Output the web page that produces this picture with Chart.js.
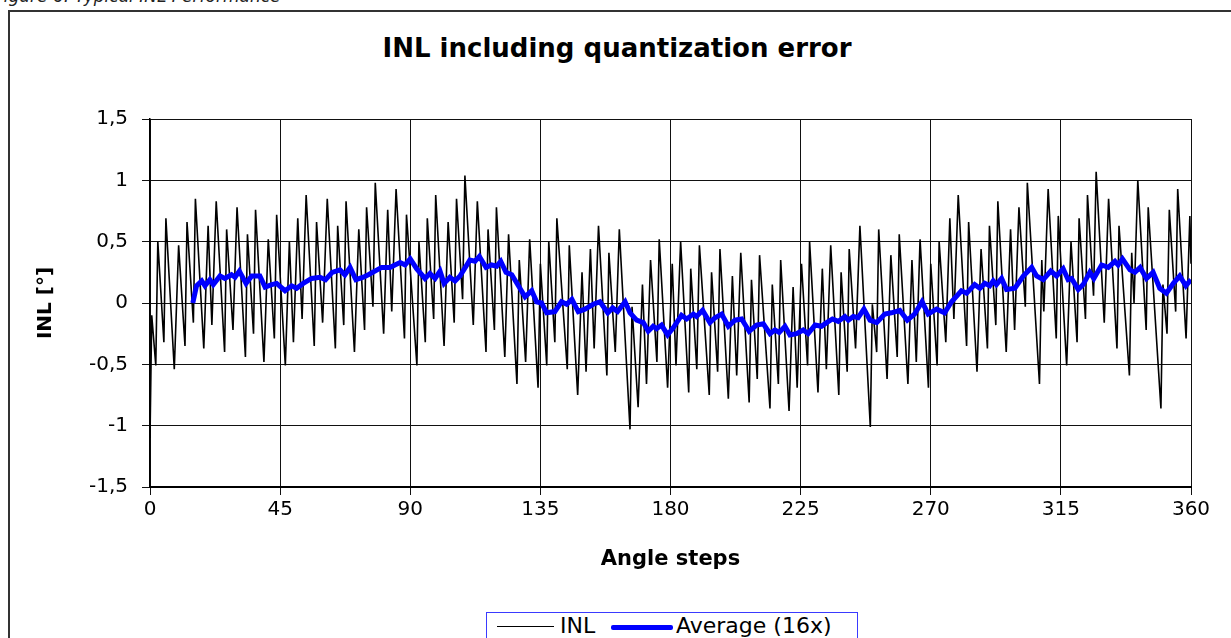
<!DOCTYPE html>
<html lang="en">
<head>
  <meta charset="UTF-8" />
  <title>INL including quantization error</title>
  <script src="https://cdn.jsdelivr.net/npm/chart.js@4.4.1/dist/chart.umd.min.js"></script>
  <style>
    html, body {
      margin: 0;
      padding: 0;
      width: 1231px;
      height: 638px;
      overflow: hidden;
      background: #ffffff;
      font-family: "DejaVu Sans", Arial, sans-serif;
    }
    #caption {
      position: absolute;
      left: -6px;
      top: -14px;
      font-style: italic;
      font-size: 17px;
      color: #222;
      white-space: nowrap;
    }
    #frame {
      position: absolute;
      left: 8px;
      top: 10px;
      width: 1240px;
      height: 650px;
      border: 2px solid #333;
      box-sizing: border-box;
    }
    #chartTitle {
      position: absolute;
      left: 0;
      width: 1234px;
      top: 33px;
      text-align: center;
      font-weight: bold;
      font-size: 26px;
      color: #000;
    }
    #inlChart {
      position: absolute;
      left: 0;
      top: 0;
    }
    #legendBox {
      position: absolute;
      left: 486px;
      top: 612px;
      width: 372px;
      height: 40px;
      border: 1px solid #3a3aff;
      box-sizing: border-box;
      background: #fff;
      font-size: 22px;
      color: #000;
    }
    .lg-line {
      position: absolute;
      top: 13px;
    }
    .lg-text {
      position: absolute;
      top: 0px;
      white-space: nowrap;
    }
  </style>
</head>
<body>
  <div id="caption">Figure 6: Typical INL Performance</div>
  <div id="frame"></div>
  <div id="chartTitle">INL including quantization error</div>
  <canvas id="inlChart" width="1231" height="638"></canvas>
  <div id="legendBox">
    <div class="lg-line" style="left:10px;width:57px;border-top:1.5px solid #000;"></div>
    <div class="lg-text" style="left:73px;">INL</div>
    <div class="lg-line" style="left:124px;top:12px;width:62px;height:5px;background:#0000ff;border-radius:2px;"></div>
    <div class="lg-text" style="left:189px;">Average (16x)</div>
  </div>

  <script>
    // ---- data ----
    const xTicks = [0, 45, 90, 135, 180, 225, 270, 315, 360];
    const yTicks = [-1.5, -1, -0.5, 0, 0.5, 1, 1.5];

    // INL (vertices of the zig-zag line): angle step, value
    const inlSteps = [
      0, 0.6, 2.0, 2.7, 4.8, 5.5, 8.4, 9.9, 12.1, 12.8, 15.0, 15.7, 18.6, 20.1, 21.4, 22.9,
      25.8, 26.5, 28.7, 30.1, 33.0, 33.7, 35.8, 36.5, 39.4, 40.9, 43.0, 43.8,
      46.8, 48.2, 49.6, 51.1, 52.6, 54.0, 56.8, 57.6, 59.7, 61.3, 64.1, 64.9, 67.0, 67.8,
      70.7, 72.2, 74.2, 74.9, 77.1, 77.9, 80.8, 82.2, 83.6, 85.1, 88.0, 88.7,
      92.3, 93.0, 95.2, 95.9, 98.1, 98.8, 101.7, 103.1, 105.2, 106.0, 108.1, 108.9,
      111.8, 113.2, 116.2, 116.9, 119.1, 119.8, 122.7, 124.0, 126.9, 127.7, 129.9, 131.3,
      134.2, 135.0, 137.2, 137.9, 140.0, 140.7, 144.3, 145.0, 147.9, 149.4, 150.8, 152.3,
      153.6, 155.1, 158.0, 158.7, 160.9, 162.3, 166.0, 166.7, 168.8, 170.3, 171.7, 173.1,
      175.3, 176.1, 179.0, 180.6, 181.9, 183.5, 186.3, 187.0, 189.1, 190.0, 193.4, 194.2,
      196.3, 197.1, 200.0, 201.4, 202.9, 204.3, 207.2, 208.0, 210.0, 210.8, 214.4, 215.2,
      217.3, 218.1, 221.0, 222.4, 223.8, 225.3, 227.4, 228.1, 231.0, 232.5, 233.9, 235.4,
      238.2, 239.0, 241.1, 241.8, 244.0, 245.5, 249.1, 249.8, 251.3, 252.0, 254.9, 256.2,
      258.4, 259.1, 262.1, 263.5, 265.0, 266.3, 269.2, 270.0, 272.2, 272.9, 275.2, 276.6,
      278.0, 279.5, 282.4, 283.1, 286.0, 287.4, 289.6, 290.3, 292.5, 293.2, 296.1, 297.6,
      299.0, 300.5, 302.7, 303.4, 307.6, 308.4, 309.1, 310.6, 313.4, 314.1, 317.0, 318.5,
      320.6, 321.3, 323.5, 324.2, 326.3, 327.2, 330.0, 331.5, 334.4, 335.1, 338.7, 339.5,
      340.3, 341.6, 344.5, 345.2, 349.6, 350.3, 351.7, 352.5, 354.7, 355.4, 358.3, 359.6, 360.0
    ];
    const inlValues = [
      -1.10, -0.10, -0.51, 0.50, -0.32, 0.69, -0.54, 0.47, -0.35, 0.66, -0.16, 0.85, -0.37, 0.63, -0.18, 0.83,
      -0.40, 0.60, -0.22, 0.78, -0.44, 0.56, -0.25, 0.76, -0.48, 0.52, -0.29, 0.72,
      -0.51, 0.50, -0.32, 0.69, -0.13, 0.88, -0.35, 0.66, -0.16, 0.85, -0.37, 0.63, -0.18, 0.83,
      -0.40, 0.60, -0.22, 0.78, -0.03, 0.98, -0.25, 0.76, -0.07, 0.93, -0.29, 0.72,
      -0.51, 0.50, -0.32, 0.69, -0.13, 0.88, -0.35, 0.66, -0.16, 0.85, 0.03, 1.04,
      -0.18, 0.83, -0.40, 0.60, -0.22, 0.78, -0.44, 0.56, -0.66, 0.35, -0.48, 0.52,
      -0.69, 0.32, -0.51, 0.50, -0.32, 0.69, -0.54, 0.47, -0.75, 0.25, -0.56, 0.44,
      -0.37, 0.63, -0.59, 0.41, -0.40, 0.60, -1.03, -0.03, -0.85, 0.15, -0.66, 0.35,
      -0.48, 0.52, -0.69, 0.32, -0.51, 0.50, -0.73, 0.28, -0.54, 0.47, -0.75, 0.25,
      -0.56, 0.44, -0.78, 0.22, -0.59, 0.41, -0.81, 0.19, -0.62, 0.39, -0.86, 0.15,
      -0.66, 0.35, -0.88, 0.13, -0.69, 0.32, -0.51, 0.50, -0.73, 0.28, -0.54, 0.47,
      -0.75, 0.25, -0.56, 0.44, -0.37, 0.63, -1.01, -0.01, -0.40, 0.60, -0.62, 0.39,
      -0.44, 0.56, -0.66, 0.35, -0.48, 0.52, -0.69, 0.32, -0.51, 0.50, -0.32, 0.69,
      -0.13, 0.88, -0.35, 0.66, -0.56, 0.44, -0.37, 0.63, -0.18, 0.83, -0.40, 0.60,
      -0.22, 0.78, -0.03, 0.98, -0.66, 0.35, -0.07, 0.93, -0.29, 0.71, -0.51, 0.50,
      -0.32, 0.69, -0.13, 0.88, 0.06, 1.07, -0.16, 0.85, -0.37, 0.63, -0.59, 0.41,
      0.00, 1.00, -0.22, 0.78, -0.86, 0.15, -0.25, 0.76, -0.07, 0.93, -0.29, 0.71, 0.32
    ];

    // Average (16x)
    const avgSteps = [
      14.8, 16.1, 17.9, 19.0, 20.7, 21.9, 24.2, 25.9, 28.2, 29.4, 30.9, 33.2, 35.2, 38.0, 39.8,
      42.1, 43.8, 46.7, 49.0, 50.7, 53.0, 55.9, 58.8, 60.7, 63.0, 65.7, 67.4, 69.2, 71.2, 73.8,
      75.5, 80.1, 83.0, 84.7, 86.5, 88.2, 90.0, 92.2, 95.1, 96.8, 98.6, 100.3, 101.7, 103.7,
      105.5, 107.2, 110.6, 112.4, 113.9, 116.2, 118.1, 119.9, 121.3, 123.1, 125.1, 127.4, 129.7,
      132.0, 133.7, 135.4, 137.2, 140.0, 142.3, 144.1, 145.9, 148.1, 150.4, 153.3, 155.6, 158.3,
      160.0, 161.7, 164.3, 166.0, 168.3, 170.6, 172.3, 174.0, 175.2, 176.9, 179.0, 181.0, 183.8,
      185.6, 187.9, 189.0, 191.1, 193.6, 195.4, 197.7, 200.0, 202.3, 204.6, 207.2, 209.8, 212.1,
      214.4, 216.1, 217.6, 219.6, 221.3, 223.6, 225.9, 227.6, 230.0, 232.2, 234.0, 236.0, 238.0,
      240.3, 241.5, 243.2, 244.9, 246.9, 249.0, 251.3, 254.1, 256.4, 259.3, 261.9, 264.4, 267.0,
      269.1, 272.0, 274.8, 277.2, 280.6, 282.4, 285.2, 287.0, 288.7, 290.4, 291.6, 292.7, 294.5,
      296.2, 299.1, 302.0, 304.9, 306.6, 308.9, 311.5, 313.5, 315.8, 317.5, 318.7, 321.0, 322.7,
      325.0, 326.4, 329.1, 331.4, 333.7, 334.8, 336.3, 338.9, 340.6, 342.4, 344.6, 346.9, 349.2,
      351.5, 353.9, 356.1, 358.2, 360.0
    ];
    const avgValues = [
      0.00, 0.14, 0.18, 0.14, 0.19, 0.15, 0.22, 0.20, 0.23, 0.21, 0.26, 0.16, 0.22, 0.22, 0.13,
      0.15, 0.16, 0.10, 0.14, 0.12, 0.16, 0.20, 0.21, 0.19, 0.25, 0.27, 0.23, 0.29, 0.19, 0.21,
      0.23, 0.29, 0.29, 0.31, 0.33, 0.31, 0.36, 0.28, 0.20, 0.24, 0.20, 0.26, 0.16, 0.21,
      0.18, 0.22, 0.35, 0.34, 0.38, 0.29, 0.31, 0.30, 0.34, 0.25, 0.23, 0.14, 0.05,
      0.10, 0.01, 0.00, -0.08, -0.07, 0.01, -0.01, 0.03, -0.07, -0.05, -0.01, 0.01, -0.08,
      -0.04, -0.07, 0.01, -0.08, -0.14, -0.16, -0.23, -0.19, -0.21, -0.18, -0.26, -0.20, -0.10,
      -0.13, -0.09, -0.11, -0.06, -0.16, -0.12, -0.09, -0.19, -0.14, -0.13, -0.23, -0.18, -0.17,
      -0.25, -0.22, -0.24, -0.19, -0.26, -0.25, -0.22, -0.25, -0.18, -0.19, -0.16, -0.13, -0.15,
      -0.11, -0.14, -0.11, -0.12, -0.05, -0.14, -0.16, -0.09, -0.08, -0.06, -0.14, -0.09, 0.01,
      -0.09, -0.05, -0.08, 0.01, 0.10, 0.08, 0.15, 0.12, 0.16, 0.14, 0.18, 0.15, 0.20,
      0.11, 0.12, 0.22, 0.29, 0.22, 0.19, 0.26, 0.22, 0.28, 0.19, 0.20, 0.11, 0.15,
      0.25, 0.20, 0.31, 0.29, 0.34, 0.31, 0.36, 0.27, 0.25, 0.29, 0.20, 0.25, 0.12,
      0.08, 0.16, 0.22, 0.14, 0.19
    ];

    function toPoints(xs, ys) {
      return xs.map((x, i) => ({ x: x, y: ys[i] }));
    }

    function commaLabel(v) {
      return String(v).replace(".", ",");
    }

    const FONT = "DejaVu Sans, Arial, sans-serif";

    const ctx = document.getElementById("inlChart").getContext("2d");
    new Chart(ctx, {
      type: "line",
      data: {
        datasets: [
          {
            label: "Average (16x)",
            data: toPoints(avgSteps, avgValues),
            borderColor: "#0000ff",
            borderWidth: 5,
            pointRadius: 0,
            tension: 0,
            order: 0,
          },
          {
            label: "INL",
            data: toPoints(inlSteps, inlValues),
            borderColor: "#000000",
            borderWidth: 1.6,
            pointRadius: 0,
            tension: 0,
            order: 1,
          },
        ],
      },
      options: {
        responsive: false,
        animation: false,
        devicePixelRatio: 1,
        layout: {
          padding: { top: 119, right: 40, bottom: 0, left: 0 },
        },
        plugins: {
          legend: { display: false },
          title: { display: false },
          tooltip: { enabled: false },
        },
        scales: {
          x: {
            type: "linear",
            min: 0,
            max: 360,
            afterBuildTicks: (scale) => {
              scale.ticks = xTicks.map((v) => ({ value: v }));
            },
            afterFit: (scale) => {
              scale.height = 151;
            },
            ticks: {
              color: "#000",
              font: { family: FONT, size: 20 },
              padding: 3,
              maxRotation: 0,
            },
            grid: {
              color: "#111",
              lineWidth: 1,
              tickLength: 8,
            },
            border: { color: "#000", width: 2 },
            title: {
              display: true,
              text: "Angle steps",
              color: "#000",
              font: { family: FONT, size: 21, weight: "bold" },
              padding: { top: 0, bottom: 66 },
            },
          },
          y: {
            type: "linear",
            min: -1.5,
            max: 1.5,
            afterBuildTicks: (scale) => {
              scale.ticks = yTicks.map((v) => ({ value: v }));
            },
            afterFit: (scale) => {
              scale.width = 150;
            },
            ticks: {
              color: "#000",
              font: { family: FONT, size: 20 },
              padding: 14,
              callback: (v) => commaLabel(v),
            },
            grid: {
              color: "#111",
              lineWidth: 1,
              tickLength: 8,
            },
            border: { color: "#000", width: 1.5 },
            title: {
              display: true,
              text: "INL [°]",
              color: "#000",
              font: { family: FONT, size: 20, weight: "bold" },
              padding: { top: 34, bottom: 0 },
            },
          },
        },
      },
    });
  </script>
</body>
</html>
